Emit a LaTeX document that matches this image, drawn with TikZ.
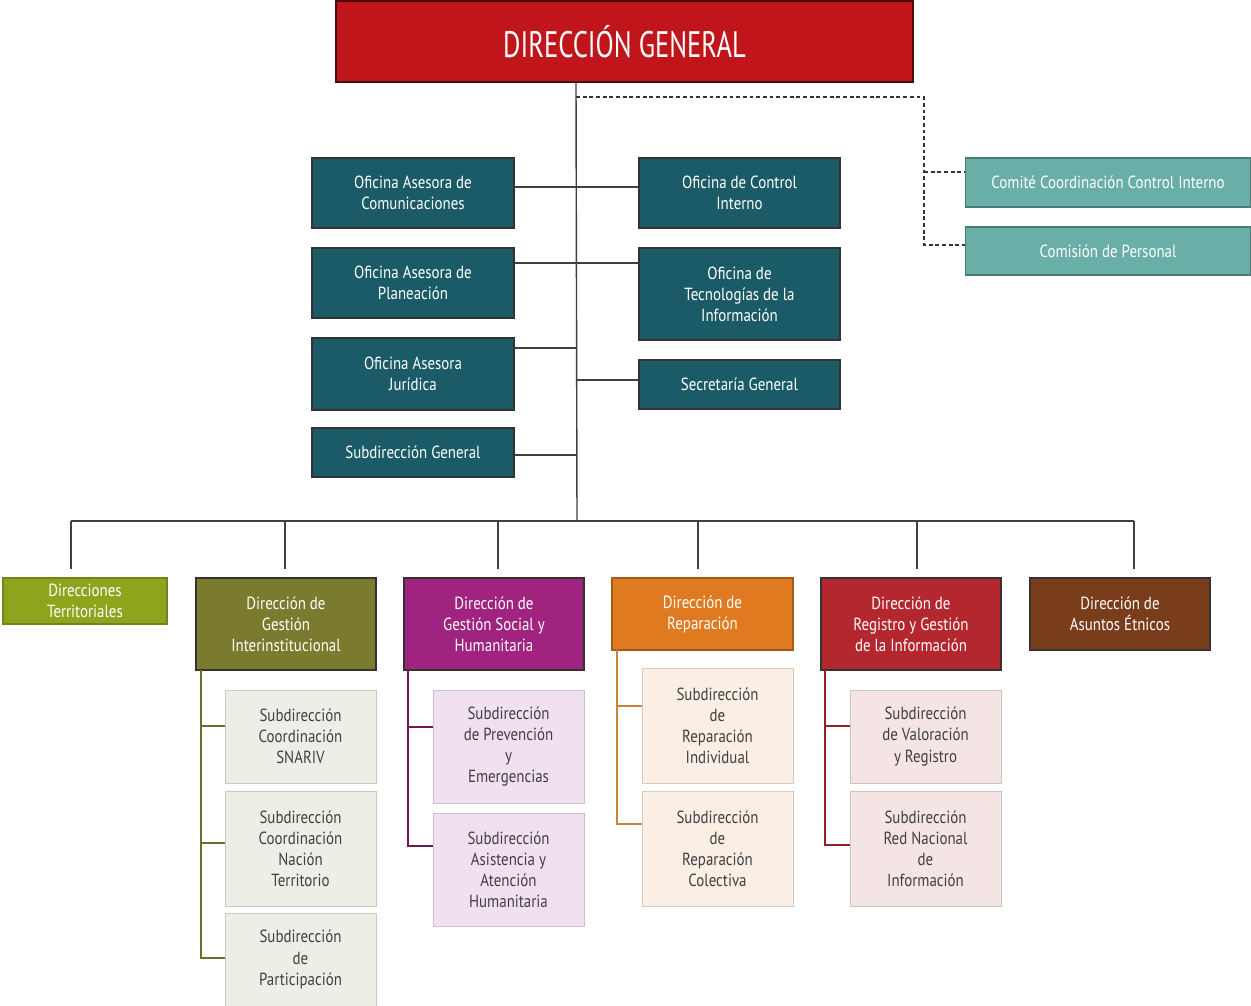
\documentclass[tikz,border=0pt]{standalone}
\usepackage{fontspec}
\setmainfont[FakeStretch=0.85]{PT Sans}
\newfontfamily\titlefont[FakeStretch=0.72]{PT Sans}
\definecolor{dgred}{HTML}{C0161B}
\definecolor{teal1}{HTML}{1B5B67}
\definecolor{teal2}{HTML}{69AFA8}
\definecolor{cterr}{HTML}{8DA51D}
\definecolor{cgi}{HTML}{7B7B2F}
\definecolor{cgs}{HTML}{A0237F}
\definecolor{crep}{HTML}{E07A20}
\definecolor{creg}{HTML}{B5272E}
\definecolor{cet}{HTML}{7A3D1C}
\definecolor{lgi}{HTML}{EEEEE6}
\definecolor{lgs}{HTML}{F1E1F0}
\definecolor{lrep}{HTML}{FBEEE5}
\definecolor{lreg}{HTML}{F5E4E4}
\definecolor{bgi}{HTML}{6E6E2C}
\definecolor{bgs}{HTML}{6B1B58}
\definecolor{brep}{HTML}{C8843F}
\definecolor{breg}{HTML}{8E2229}
\begin{document}
\begin{tikzpicture}[x=0.02cm,y=-0.02cm,
  box/.style={rectangle, inner sep=2pt, align=center, font=\fontsize{10}{12}\selectfont},
  dark/.style={box, draw=black!80, line width=0.9pt, text=white},
  lite/.style={box, fill=#1, draw=#1!85!black, line width=0.5pt, text=black!75},
  conn/.style={draw=black!75, line width=0.8pt},
  dashline/.style={draw=black!80, line width=0.9pt, dash pattern=on 2.2pt off 1.6pt},
  branch/.style={draw=#1, line width=0.9pt}
]
\useasboundingbox (0,0) rectangle (1251,1006);

% top
\node[dark, fill=dgred, draw=black!60!dgred, minimum width=11.54cm, minimum height=1.62cm,
  font=\titlefont\fontsize{21}{24}\selectfont] (dg) at (624.5,41.5) {DIRECCIÓN GENERAL};

% staff offices
\node[dark, fill=teal1, minimum width=4.04cm, minimum height=1.40cm] (oc) at (413,193) {Oficina Asesora de\\Comunicaciones};
\node[dark, fill=teal1, minimum width=4.04cm, minimum height=1.40cm] (op) at (413,283) {Oficina Asesora de\\Planeación};
\node[dark, fill=teal1, minimum width=4.04cm, minimum height=1.44cm] (oj) at (413,374) {Oficina Asesora\\Jurídica};
\node[dark, fill=teal1, minimum width=4.04cm, minimum height=0.98cm] (sg) at (413,452.5) {Subdirección General};
\node[dark, fill=teal1, minimum width=4.02cm, minimum height=1.40cm] (ci) at (739.5,193) {Oficina de Control\\Interno};
\node[dark, fill=teal1, minimum width=4.02cm, minimum height=1.84cm] (ti) at (739.5,294) {Oficina de\\Tecnologías de la\\Información};
\node[dark, fill=teal1, minimum width=4.02cm, minimum height=0.98cm] (sec) at (739.5,384.5) {Secretaría General};

% committees
\node[box, fill=teal2, draw=teal2!70!black, line width=0.6pt, text=white, minimum width=5.72cm, minimum height=0.98cm] (cc) at (1108,182.5) {Comité Coordinación Control Interno};
\node[box, fill=teal2, draw=teal2!70!black, line width=0.6pt, text=white, minimum width=5.72cm, minimum height=0.96cm] (cp) at (1108,251) {Comisión de Personal};

% directions
\node[box, fill=cterr, draw=cterr!80!black, line width=0.6pt, text=white, minimum width=3.28cm, minimum height=0.92cm] (dt) at (85,601) {Direcciones\\Territoriales};
\node[dark, fill=cgi, minimum width=3.60cm, minimum height=1.84cm] (dgi) at (286,624) {Dirección de\\Gestión\\Interinstitucional};
\node[dark, fill=cgs, minimum width=3.60cm, minimum height=1.84cm] (dgs) at (494,624) {Dirección de\\Gestión Social y\\Humanitaria};
\node[box, fill=crep, draw=crep!75!black, line width=0.6pt, text=white, minimum width=3.62cm, minimum height=1.44cm] (dr) at (702.5,614) {Dirección de\\Reparación};
\node[dark, fill=creg, minimum width=3.60cm, minimum height=1.84cm] (drg) at (911,624) {Dirección de\\Registro y Gestión\\de la Información};
\node[dark, fill=cet, minimum width=3.60cm, minimum height=1.44cm] (dae) at (1120,614) {Dirección de\\Asuntos Étnicos};

% subdirections
\node[lite=lgi, minimum width=3.02cm, minimum height=1.86cm] (s1) at (300.5,736.5) {Subdirección\\Coordinación\\SNARIV};
\node[lite=lgi, minimum width=3.02cm, minimum height=2.30cm] (s2) at (300.5,848.5) {Subdirección\\Coordinación\\Nación\\Territorio};
\node[lite=lgi, minimum width=3.02cm, minimum height=1.86cm] (s3) at (300.5,959.5) {Subdirección\\de\\Participación};
\node[lite=lgs, minimum width=3.02cm, minimum height=2.26cm] (s4) at (508.5,746.5) {Subdirección\\de Prevención\\y\\Emergencias};
\node[lite=lgs, minimum width=3.02cm, minimum height=2.26cm] (s5) at (508.5,869.5) {Subdirección\\Asistencia y\\Atención\\Humanitaria};
\node[lite=lrep, minimum width=3.02cm, minimum height=2.30cm] (s6) at (717.5,725.5) {Subdirección\\de\\Reparación\\Individual};
\node[lite=lrep, minimum width=3.02cm, minimum height=2.30cm] (s7) at (717.5,848.5) {Subdirección\\de\\Reparación\\Colectiva};
\node[lite=lreg, minimum width=3.02cm, minimum height=1.86cm] (s8) at (925.5,736.5) {Subdirección\\de Valoración\\y Registro};
\node[lite=lreg, minimum width=3.02cm, minimum height=2.30cm] (s9) at (925.5,848.5) {Subdirección\\Red Nacional\\de\\Información};

% trunk coordinates
\coordinate (t0) at (576,83);
\coordinate (bus) at (577,521);
\coordinate (j1) at (576,187);
\coordinate (j2) at (576,263);
\coordinate (j3) at (576,348);
\coordinate (j4) at (576,380);
\coordinate (j5) at (576,455);
\coordinate (d0) at (576,97);
\coordinate (d1) at (924,97);
\coordinate (dc) at (924,172);
\coordinate (dp) at (924,245);

\draw[conn] (dg.south -| t0) -- (bus);
\draw[conn] (oc.east |- j1) -- (ci.west |- j1);
\draw[conn] (op.east |- j2) -- (ti.west |- j2);
\draw[conn] (oj.east |- j3) -- (j3);
\draw[conn] (j4) -- (sec.west |- j4);
\draw[conn] (sg.east |- j5) -- (j5);

% dashed to committees
\draw[dashline] (d0) -- (d1) -- (dp) -- (cp.west |- dp);
\draw[dashline] (dc) -- (cc.west |- dc);

% bus
\coordinate (b1) at (71,521);
\coordinate (b2) at (285,521);
\coordinate (b3) at (498,521);
\coordinate (b4) at (698,521);
\coordinate (b5) at (917,521);
\coordinate (b6) at (1134,521);
\draw[conn] (b1) -- (b6);
\draw[conn, shorten >=0.16cm] (b1) -- (b1 |- dt.north);
\draw[conn, shorten >=0.16cm] (b2) -- (b2 |- dgi.north);
\draw[conn, shorten >=0.16cm] (b3) -- (b3 |- dgs.north);
\draw[conn, shorten >=0.16cm] (b4) -- (b4 |- dr.north);
\draw[conn, shorten >=0.16cm] (b5) -- (b5 |- drg.north);
\draw[conn, shorten >=0.16cm] (b6) -- (b6 |- dae.north);

% sub branches
\coordinate (g1) at (201,670);
\coordinate (g1a) at (201,726);
\coordinate (g1b) at (201,843);
\coordinate (g1c) at (201,958);
\draw[branch=bgi] (g1) -- (g1c) -- (s3.west |- g1c);
\draw[branch=bgi] (g1a) -- (s1.west |- g1a);
\draw[branch=bgi] (g1b) -- (s2.west |- g1b);
\coordinate (g2) at (408,670);
\coordinate (g2a) at (408,727);
\coordinate (g2b) at (408,846);
\draw[branch=bgs] (g2) -- (g2b) -- (s5.west |- g2b);
\draw[branch=bgs] (g2a) -- (s4.west |- g2a);
\coordinate (g3) at (617,650);
\coordinate (g3a) at (617,706);
\coordinate (g3b) at (617,824);
\draw[branch=brep] (g3) -- (g3b) -- (s7.west |- g3b);
\draw[branch=brep] (g3a) -- (s6.west |- g3a);
\coordinate (g4) at (825,670);
\coordinate (g4a) at (825,726);
\coordinate (g4b) at (825,845);
\draw[branch=breg] (g4) -- (g4b) -- (s9.west |- g4b);
\draw[branch=breg] (g4a) -- (s8.west |- g4a);
\end{tikzpicture}
\end{document}
